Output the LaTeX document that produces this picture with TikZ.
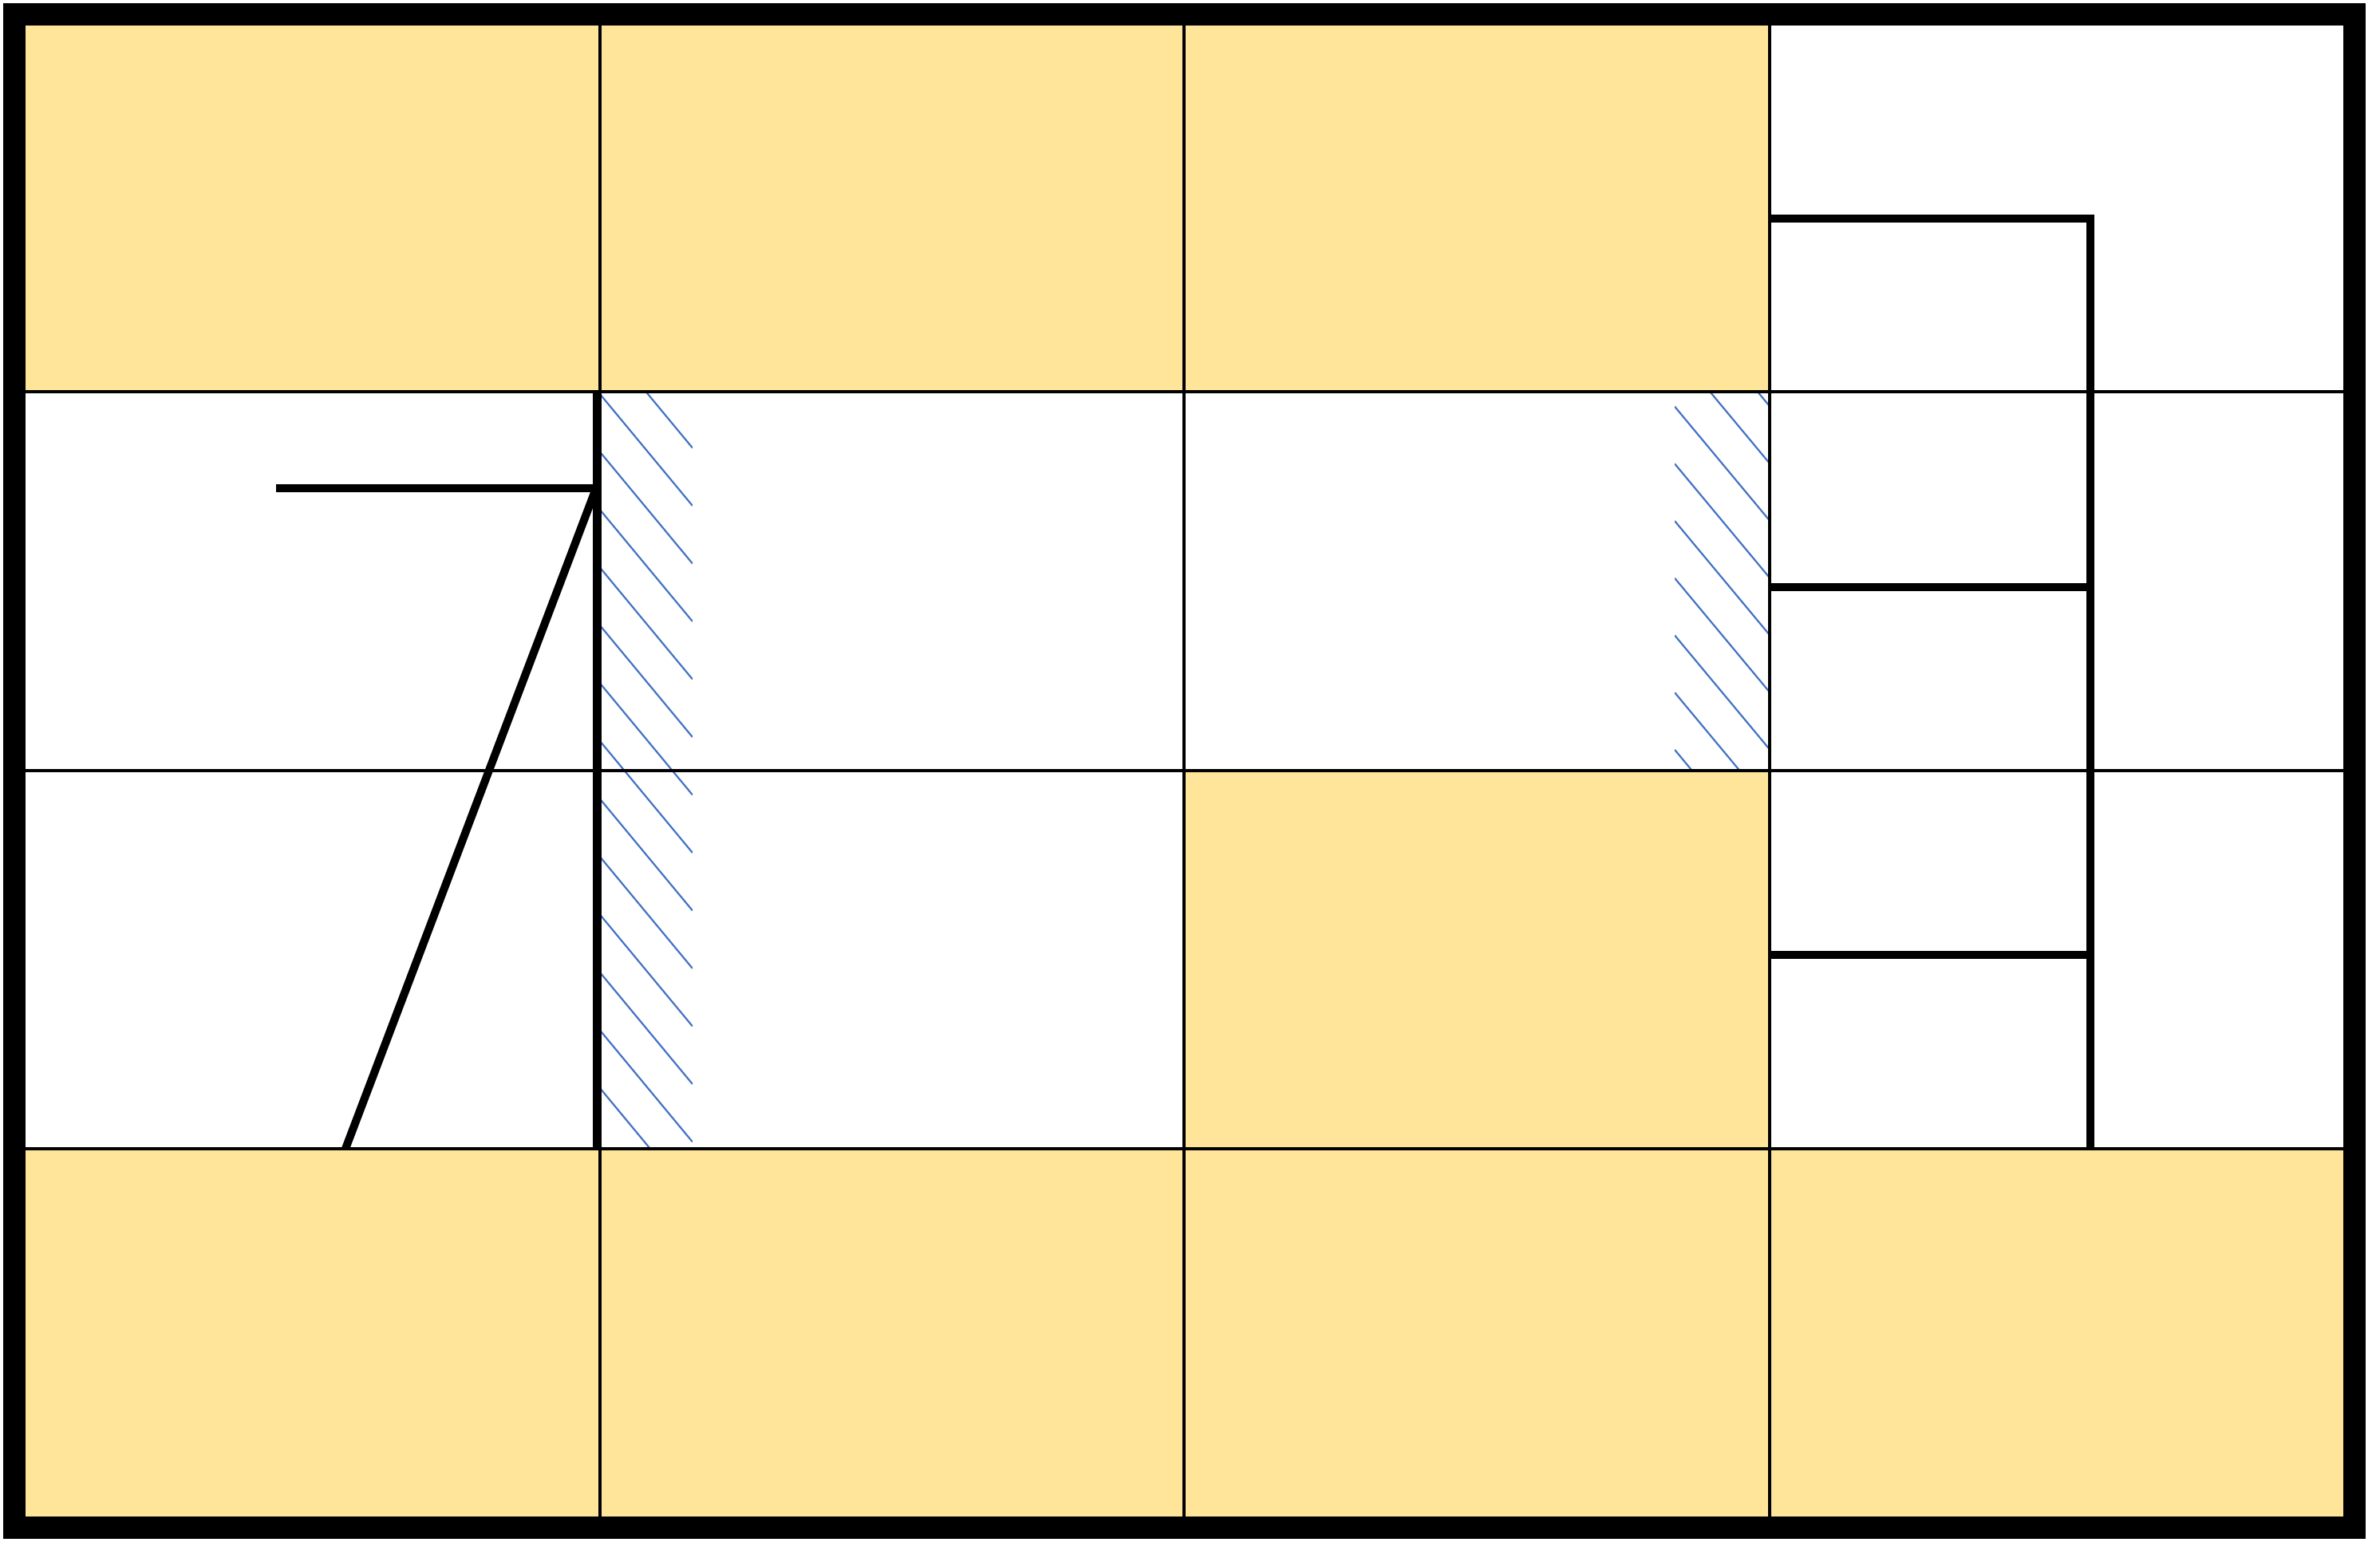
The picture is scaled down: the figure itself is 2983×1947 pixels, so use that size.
\documentclass[tikz,border=0pt]{standalone}
\usetikzlibrary{calc}
\definecolor{cellyellow}{HTML}{FFE599}
\definecolor{hatchblue}{HTML}{4472C4}
\tikzset{
  thinline/.style={line width=0.04cm, black},
  thickline/.style={line width=0.1cm, black},
  frameline/.style={line width=0.28cm, black},
  hatchline/.style={line width=0.022cm, hatchblue},
  yellowfill/.style={fill=cellyellow, draw=none}
}
\begin{document}
\begin{tikzpicture}[x=0.01cm, y=-0.01cm]
\useasboundingbox (0,0) rectangle (2983,1947);
% yellow cells
\fill[cellyellow] (18,18) rectangle (2218,491);
\fill[cellyellow] (18,1440) rectangle (2951,1915);
\fill[cellyellow] (1484,966) rectangle (2218,1440);
% left hatch band
\begin{scope}
  \clip (752,491) rectangle (868,1440);
  \foreach \k in {-2,...,14}{
    \draw[hatchline] (752,{494+72.5*\k}) -- (868,{494+72.5*\k+140});
  }
\end{scope}
% right hatch band
\begin{scope}
  \clip (2099,491) rectangle (2218,966);
  \foreach \k in {-3,...,7}{
    \draw[hatchline] (2099,{509.6+71.7*\k}) -- (2218,{509.6+71.7*\k+143});
  }
\end{scope}
% thin grid
\foreach \gx in {752,1484,2218}{
  \draw[thinline] (\gx,18) -- (\gx,1915);
}
\foreach \gy in {491,966,1440}{
  \draw[thinline] (18,\gy) -- (2951,\gy);
}
% the "7" figure and wall
\draw[thickline] (748,491) -- (748,1440);
\draw[thickline] (346,612) -- (748,612);
\draw[thickline] (746,615) -- (433,1440);
% right structure
\draw[thickline] (2218,274) -- (2620,274) -- (2620,1440);
\draw[thickline] (2218,736) -- (2620,736);
\draw[thickline] (2218,1197) -- (2620,1197);
% outer frame
\draw[frameline] (18,18) rectangle (2951,1915);
\end{tikzpicture}
\end{document}
